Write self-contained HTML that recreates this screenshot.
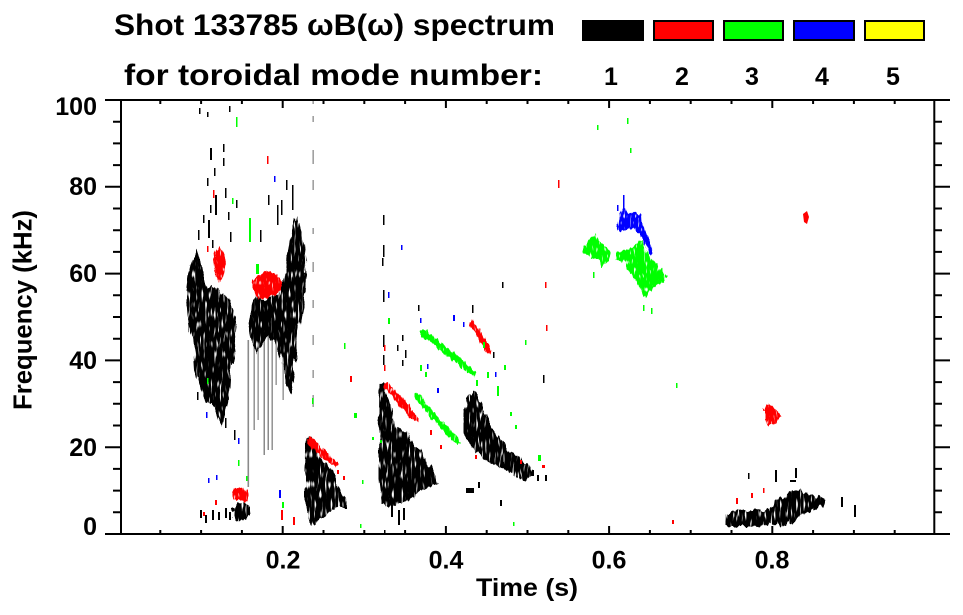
<!DOCTYPE html>
<html><head><meta charset="utf-8"><style>
html,body{margin:0;padding:0;background:#fff;}
svg{display:block;}
text{font-family:"Liberation Sans",Arial,sans-serif;font-weight:bold;fill:#000;}
.k{fill:#000}.r{fill:#f00}.g{fill:#0f0}.b{fill:#00f}.gr{fill:#8a8a8a}
</style></head><body>
<svg width="963" height="615" viewBox="0 0 963 615" xmlns="http://www.w3.org/2000/svg">
<defs>
<filter id="rough" filterUnits="userSpaceOnUse" x="0" y="0" width="963" height="615" color-interpolation-filters="sRGB">
 <feTurbulence type="fractalNoise" baseFrequency="0.22 0.05" numOctaves="2" seed="7" result="n"/>
 <feDisplacementMap in="SourceGraphic" in2="n" scale="9" xChannelSelector="R" yChannelSelector="G" result="d"/>
 <feTurbulence type="fractalNoise" baseFrequency="0.55 0.1" numOctaves="1" seed="2" result="n2"/>
 <feColorMatrix in="n2" type="matrix" values="0 0 0 0 0  0 0 0 0 0  0 0 0 0 0  7 0 0 0 -1.9" result="m"/>
 <feComposite in="d" in2="m" operator="in"/>
</filter>
<filter id="rough2" filterUnits="userSpaceOnUse" x="0" y="0" width="963" height="615" color-interpolation-filters="sRGB">
 <feTurbulence type="fractalNoise" baseFrequency="0.3 0.08" numOctaves="2" seed="11" result="n"/>
 <feDisplacementMap in="SourceGraphic" in2="n" scale="6" xChannelSelector="R" yChannelSelector="G" result="d"/>
 <feTurbulence type="fractalNoise" baseFrequency="0.5 0.15" numOctaves="1" seed="5" result="n2"/>
 <feColorMatrix in="n2" type="matrix" values="0 0 0 0 0  0 0 0 0 0  0 0 0 0 0  7 0 0 0 -1.7" result="m"/>
 <feComposite in="d" in2="m" operator="in"/>
</filter>
</defs>
<rect width="963" height="615" fill="#fff"/>

<!-- Title -->
<text x="114" y="35" font-size="30" textLength="441" lengthAdjust="spacingAndGlyphs">Shot 133785 ωB(ω) spectrum</text>
<text x="124" y="85" font-size="30" textLength="419" lengthAdjust="spacingAndGlyphs">for toroidal mode number:</text>

<!-- Legend -->
<rect x="582" y="20" width="62" height="21" fill="#000"/>
<rect x="654" y="21" width="59" height="19" fill="#f00" stroke="#000" stroke-width="2"/>
<rect x="724" y="21" width="59" height="19" fill="#0f0" stroke="#000" stroke-width="2"/>
<rect x="794" y="21" width="60" height="19" fill="#00f" stroke="#000" stroke-width="2"/>
<rect x="865" y="21" width="59" height="19" fill="#ff0" stroke="#000" stroke-width="2"/>
<g font-size="25" text-anchor="middle">
<text x="611" y="85">1</text><text x="682" y="85">2</text><text x="752" y="85">3</text><text x="822" y="85">4</text><text x="893" y="85">5</text>
</g>

<!-- ===== DATA ===== -->
<g class="gr">
<rect x="247.5" y="340" width="1.6" height="147"/>
<rect x="253.5" y="320" width="1.4" height="110"/>
<rect x="257.5" y="330" width="1.3" height="90"/>
<rect x="263.5" y="340" width="1.5" height="115"/>
<rect x="267.5" y="330" width="1.5" height="120"/>
<rect x="271.5" y="320" width="1.4" height="130"/>
<rect x="275.5" y="330" width="1.3" height="55"/>
<rect x="282.5" y="340" width="1.3" height="60"/>
<rect x="312.5" y="100" width="1.3" height="4"/><rect x="312.5" y="116" width="1.3" height="6"/>
<rect x="312.5" y="150" width="1.3" height="14"/><rect x="312.5" y="180" width="1.3" height="10"/>
<rect x="312.5" y="228" width="1.3" height="6"/><rect x="312.5" y="262" width="1.3" height="10"/>
<rect x="312.5" y="300" width="1.3" height="8"/><rect x="312.5" y="335" width="1.3" height="10"/>
<rect x="312.5" y="370" width="1.3" height="8"/><rect x="312.5" y="395" width="1.3" height="12"/>
</g>

<g filter="url(#rough)">
<polygon class="k" points="192,262 196,250 200,258 203,275 206,288 213,286 220,292 226,296 232,305 236,318 234,335 236,350 232,365 230,380 229,398 227,415 222,428 218,420 214,408 208,402 202,396 198,385 195,370 194,352 192,338 190,322 188,305 187,290 189,275"/>
<polygon class="k" points="250,305 256,295 262,300 270,298 280,290 285,272 288,250 292,230 296,215 300,225 303,240 305,258 306,275 305,295 301,315 298,335 296,355 294,375 290,392 285,385 282,360 276,345 268,335 262,345 257,355 252,340 249,322"/>
<polygon class="k" points="306,440 310,436 314,448 320,458 328,465 334,475 338,485 342,492 347,498 346,508 338,508 330,512 322,518 314,524 308,518 305,500 305,470"/>
<polygon class="k" points="380,385 385,383 388,400 391,420 398,428 405,432 410,440 418,448 424,458 430,468 435,475 437,485 428,487 420,492 410,500 398,505 388,508 382,505 379,480 379,440"/>
<polygon class="k" points="466,398 472,391 478,394 482,405 486,418 492,428 500,438 508,448 516,455 524,462 530,466 533,474 526,480 516,478 506,472 496,466 486,460 476,452 468,442 465,425 464,410"/>
<polygon class="k" points="725,515 735,510 745,512 755,510 765,512 773,505 778,498 785,496 790,490 798,488 805,493 812,496 820,497 826,500 823,506 812,510 803,515 795,522 785,525 775,524 765,525 750,526 735,526 725,526"/>
<polygon class="k" points="232,510 238,505 244,503 249,508 250,516 244,520 236,521 232,518"/>
</g>

<g filter="url(#rough2)">
<g class="r">
<polygon points="216,250 220,246 224,255 226,265 224,278 219,283 215,272 213,260"/>
<polygon points="253,280 260,275 266,270 272,272 278,276 282,282 279,292 272,296 262,300 255,296 252,288"/>
<polygon points="232,492 238,487 244,488 248,494 247,502 240,500 234,500"/>
<polygon points="306,438 310,436 320,446 330,455 338,464 336,468 326,461 316,452 307,444"/>
<polygon points="385,381 389,383 396,392 404,400 412,410 418,418 416,422 408,415 400,406 392,396 384,387"/>
<polygon points="469,322 473,320 479,330 485,340 491,350 488,354 482,344 476,334 469,326"/>
<polygon points="764,410 768,404 772,408 778,411 781,417 776,424 768,425 764,418"/>
</g>
<g class="g">
<polygon points="421,331 425,330 435,338 445,346 455,354 465,362 476,372 474,377 463,368 452,360 442,352 432,344 421,336"/>
<polygon points="415,394 418,393 425,402 433,412 441,420 449,428 457,436 461,443 457,445 448,436 440,427 431,418 423,408 415,399"/>
<polygon points="583,246 590,240 595,233 600,242 606,245 610,252 608,262 602,268 600,258 594,258 588,256 583,252"/>
<polygon points="615,252 625,250 632,248 638,243 642,240 646,250 650,258 655,262 660,268 667,276 664,282 656,285 650,292 645,298 640,288 635,280 630,272 625,262 615,260"/>
</g>
<g class="b">
<polygon points="617,225 620,213 624,208 630,214 636,212 641,215 642,224 646,232 650,242 653,254 650,256 645,245 640,235 632,228 624,230 619,231"/>
</g>
</g>

<!-- scattered black dashes -->
<g class="k">
<rect x="199" y="108" width="1.5" height="6"/><rect x="207" y="112" width="1.5" height="5"/><rect x="229" y="106" width="1.5" height="6"/>
<rect x="210" y="148" width="2" height="12"/><rect x="223" y="144" width="1.5" height="8"/><rect x="223" y="158" width="1.5" height="8"/>
<rect x="207" y="178" width="1.5" height="8"/><rect x="214" y="168" width="1.5" height="8"/><rect x="215" y="195" width="2" height="20"/>
<rect x="210" y="205" width="1.5" height="8"/><rect x="208" y="220" width="2" height="18"/><rect x="225" y="188" width="1.5" height="10"/>
<rect x="228" y="212" width="1.5" height="8"/><rect x="212" y="240" width="1.5" height="8"/><rect x="236" y="200" width="1.5" height="8"/>
<rect x="230" y="232" width="1.5" height="10"/><rect x="198" y="230" width="1.5" height="10"/><rect x="203" y="215" width="1.5" height="8"/>
<rect x="286" y="180" width="1.5" height="10"/><rect x="292" y="185" width="1.5" height="25"/><rect x="281" y="200" width="1.5" height="15"/>
<rect x="268" y="195" width="1.5" height="10"/><rect x="277" y="205" width="1.5" height="20"/><rect x="260" y="230" width="1.5" height="12"/>
<rect x="234" y="430" width="1.5" height="10"/><rect x="225" y="418" width="1.5" height="10"/><rect x="197" y="392" width="1.5" height="8"/>
<rect x="200" y="510" width="2" height="8"/><rect x="205" y="515" width="2" height="8"/><rect x="212" y="510" width="2" height="10"/>
<rect x="218" y="512" width="2" height="8"/><rect x="225" y="508" width="2" height="10"/><rect x="229" y="512" width="2" height="8"/>
<rect x="383" y="215" width="1.5" height="10"/><rect x="383" y="245" width="1.5" height="12"/><rect x="382" y="258" width="1.5" height="8"/>
<rect x="383" y="290" width="1.5" height="12"/><rect x="383" y="335" width="1.5" height="12"/><rect x="383" y="355" width="1.5" height="10"/>
<rect x="391" y="505" width="2" height="12"/><rect x="398" y="510" width="2" height="15"/><rect x="403" y="508" width="2" height="12"/>
<rect x="405" y="350" width="1.5" height="8"/><rect x="402" y="360" width="1.5" height="6"/><rect x="397" y="345" width="1.5" height="6"/>
<rect x="418" y="305" width="1.5" height="6"/><rect x="402" y="335" width="1.5" height="6"/>
<rect x="466" y="488" width="8" height="5"/><rect x="478" y="482" width="2" height="6"/><rect x="500" y="500" width="2" height="6"/>
<rect x="472" y="305" width="1.5" height="8"/><rect x="502" y="282" width="1.5" height="6"/><rect x="493" y="352" width="1.5" height="6"/>
<rect x="543" y="375" width="1.5" height="8"/><rect x="545" y="475" width="2" height="6"/><rect x="532" y="470" width="2" height="6"/>
<rect x="537" y="475" width="2" height="6"/><rect x="502" y="462" width="2" height="6"/>
<rect x="775" y="470" width="2" height="12"/><rect x="795" y="468" width="2" height="10"/><rect x="790" y="480" width="6" height="2"/>
<rect x="748" y="473" width="1.5" height="6"/><rect x="841" y="497" width="2" height="10"/><rect x="854" y="505" width="2" height="12"/>
<rect x="384" y="530" width="1.5" height="4"/>
</g>

<g class="r">
<polygon points="803,214 807,211 809,217 807,224 804,222"/>
<rect x="267" y="156" width="1.5" height="8"/><rect x="350" y="376" width="2" height="6"/><rect x="281" y="510" width="2" height="10"/>
<rect x="293" y="517" width="2" height="8"/><rect x="203" y="512" width="2" height="4"/><rect x="215" y="500" width="2" height="5"/>
<rect x="337" y="470" width="2" height="4"/><rect x="343" y="476" width="2" height="4"/><rect x="545" y="282" width="1.5" height="6"/>
<rect x="558" y="180" width="1.5" height="8"/><rect x="736" y="498" width="2" height="6"/><rect x="751" y="493" width="2" height="5"/>
<rect x="763" y="488" width="1.5" height="5"/><rect x="384" y="345" width="1.5" height="6"/><rect x="384" y="365" width="1.5" height="6"/>
<rect x="430" y="430" width="2" height="5"/><rect x="440" y="445" width="2" height="4"/><rect x="475" y="455" width="2" height="4"/>
<rect x="520" y="460" width="2" height="4"/><rect x="542" y="465" width="3" height="3"/><rect x="546" y="325" width="1.5" height="6"/>
<rect x="213" y="190" width="1.5" height="8"/><rect x="207" y="246" width="1.5" height="6"/><rect x="672" y="520" width="2" height="4"/>
</g>

<g class="g">
<rect x="236" y="117" width="1.5" height="10"/><rect x="249" y="218" width="2" height="24"/><rect x="256" y="264" width="3" height="10"/>
<rect x="344" y="343" width="1.5" height="6"/><rect x="354" y="413" width="3" height="5"/><rect x="312" y="398" width="1.5" height="6"/>
<rect x="238" y="460" width="1.5" height="6"/><rect x="246" y="476" width="1.5" height="5"/><rect x="282" y="502" width="2" height="6"/>
<rect x="388" y="318" width="2" height="6"/><rect x="420" y="365" width="2" height="6"/><rect x="425" y="372" width="2" height="5"/>
<rect x="380" y="440" width="2" height="3"/><rect x="372" y="437" width="2" height="3"/><rect x="362" y="480" width="1.5" height="4"/>
<rect x="483" y="342" width="2" height="6"/><rect x="497" y="386" width="2" height="10"/><rect x="487" y="372" width="2" height="6"/>
<rect x="510" y="412" width="2" height="4"/><rect x="515" y="425" width="2" height="4"/><rect x="538" y="455" width="3" height="6"/>
<rect x="504" y="365" width="2" height="5"/><rect x="476" y="380" width="2" height="6"/><rect x="627" y="118" width="1.5" height="6"/>
<rect x="630" y="148" width="1.5" height="5"/><rect x="676" y="383" width="1.5" height="5"/><rect x="593" y="272" width="1.5" height="6"/>
<rect x="643" y="305" width="1.5" height="6"/><rect x="651" y="308" width="1.5" height="6"/><rect x="597" y="125" width="1.5" height="5"/>
<rect x="360" y="524" width="1.5" height="4"/><rect x="513" y="522" width="1.5" height="4"/><rect x="525" y="340" width="1.5" height="5"/>
<rect x="207" y="378" width="1.5" height="6"/><rect x="232" y="198" width="1.5" height="6"/>
</g>

<g class="b">
<rect x="623" y="195" width="1.5" height="14"/><rect x="617" y="205" width="1.5" height="6"/>
<rect x="274" y="176" width="1.5" height="6"/><rect x="238" y="438" width="1.5" height="6"/><rect x="206" y="412" width="1.5" height="6"/>
<rect x="208" y="478" width="1.5" height="5"/><rect x="279" y="490" width="2" height="8"/><rect x="401" y="245" width="1.5" height="5"/>
<rect x="388" y="292" width="1.5" height="6"/><rect x="420" y="318" width="1.5" height="5"/><rect x="453" y="315" width="2" height="6"/>
<rect x="437" y="388" width="2" height="5"/><rect x="427" y="364" width="1.5" height="5"/><rect x="495" y="372" width="1.5" height="5"/>
<rect x="463" y="322" width="1.5" height="5"/><rect x="216" y="475" width="1.5" height="5"/>
</g>

<!-- ===== AXES ===== -->
<g stroke="#000" stroke-width="2" fill="none">
<rect x="121" y="100" width="813.3" height="434"/>
<path d="M160.3 534v-4M201.1 534v-4M241.9 534v-4M282.7 534v-8M323.5 534v-4M364.3 534v-4M405.1 534v-4M445.9 534v-8M486.7 534v-4M527.5 534v-4M568.3 534v-4M609.1 534v-8M649.9 534v-4M690.7 534v-4M731.5 534v-4M772.3 534v-8M813.1 534v-4M853.9 534v-4M894.7 534v-4"/>
<path d="M160.3 100v4M201.1 100v4M241.9 100v4M282.7 100v8M323.5 100v4M364.3 100v4M405.1 100v4M445.9 100v8M486.7 100v4M527.5 100v4M568.3 100v4M609.1 100v8M649.9 100v4M690.7 100v4M731.5 100v4M772.3 100v8M813.1 100v4M853.9 100v4M894.7 100v4"/>
<path d="M105 534H121M113 512.3H121M113 490.6H121M113 468.9H121M105 447.2H121M113 425.5H121M113 403.8H121M113 382.1H121M105 360.4H121M113 338.7H121M113 317H121M113 295.3H121M105 273.6H121M113 251.9H121M113 230.2H121M113 208.5H121M105 186.8H121M113 165.1H121M113 143.4H121M113 121.7H121M105 100H121"/>
<path d="M934 534H950M934 512.3H942M934 490.6H942M934 468.9H942M934 447.2H950M934 425.5H942M934 403.8H942M934 382.1H942M934 360.4H950M934 338.7H942M934 317H942M934 295.3H942M934 273.6H950M934 251.9H942M934 230.2H942M934 208.5H942M934 186.8H950M934 165.1H942M934 143.4H942M934 121.7H942M934 100H950"/>
</g>

<g font-size="25" text-anchor="end">
<text x="97" y="115">100</text>
<text x="97" y="195">80</text>
<text x="97" y="282">60</text>
<text x="97" y="369">40</text>
<text x="97" y="456">20</text>
<text x="97" y="535">0</text>
</g>
<g font-size="25" text-anchor="middle">
<text x="283" y="568.5">0.2</text>
<text x="446" y="568.5">0.4</text>
<text x="609" y="568.5">0.6</text>
<text x="772" y="568.5">0.8</text>
</g>
<text x="476" y="596" font-size="25" textLength="102" lengthAdjust="spacingAndGlyphs">Time (s)</text>
<text transform="translate(31.5,410) rotate(-90)" x="0" y="0" font-size="26" textLength="200" lengthAdjust="spacingAndGlyphs">Frequency (kHz)</text>
</svg>
</body></html>
